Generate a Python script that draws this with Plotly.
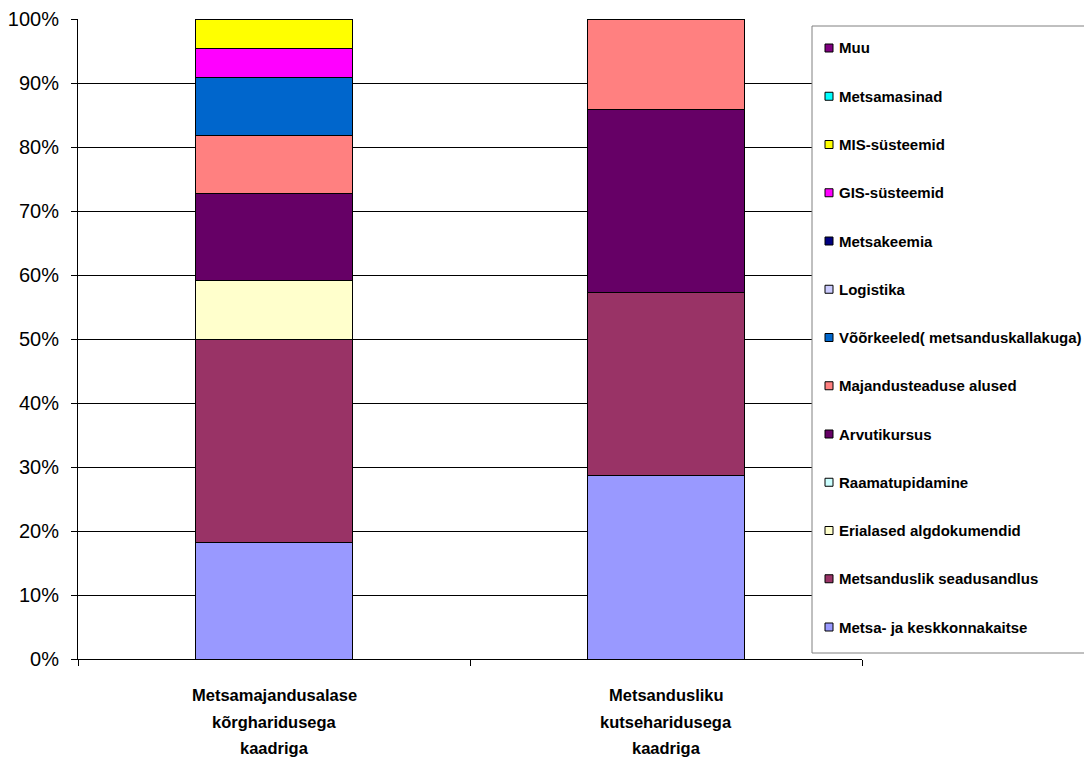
import plotly.graph_objects as go

categories = ["Metsamajandusalase kõrgharidusega kaadriga",
              "Metsandusliku kutseharidusega kaadriga"]
category_lines = [["Metsamajandusalase", "kõrgharidusega", "kaadriga"],
                  ["Metsandusliku", "kutseharidusega", "kaadriga"]]

series_names = [
    "Metsa- ja keskkonnakaitse",
    "Metsanduslik seadusandlus",
    "Erialased algdokumendid",
    "Raamatupidamine",
    "Arvutikursus",
    "Majandusteaduse alused",
    "Võõrkeeled( metsanduskallakuga)",
    "Logistika",
    "Metsakeemia",
    "GIS-süsteemid",
    "MIS-süsteemid",
    "Metsamasinad",
    "Muu",
]
# percentage shares (bottom to top)
values_higher = [18.2, 31.8, 9.1, 0, 13.6, 9.1, 9.1, 0, 0, 4.5, 4.5, 0, 0]
values_vocational = [28.6, 28.6, 0, 0, 28.6, 14.2, 0, 0, 0, 0, 0, 0, 0]

colors = ["#9999FF", "#993366", "#FFFFCC", "#CCFFFF", "#660066", "#FF8080",
          "#0066CC", "#CCCCFF", "#000080", "#FF00FF", "#FFFF00", "#00FFFF",
          "#800080"]

yticks = [0, 10, 20, 30, 40, 50, 60, 70, 80, 90, 100]
ytick_labels = [f"{v}%" for v in yticks]

FONT = "Liberation Sans, Arial, sans-serif"

fig = go.Figure()
for i, name in enumerate(series_names):
    fig.add_trace(go.Bar(
        x=categories,
        y=[values_higher[i], values_vocational[i]],
        name=name,
        marker=dict(color=colors[i], line=dict(color="black", width=1)),
        width=0.4,
        showlegend=False,
    ))

# page has an 8px body margin; work in window pixels and convert
OFF = 8
W, H = 1092 - OFF, 764 - OFF
L, R, T, B = 78, 862, 19, 659  # plot area in window pixels


def px(xp):
    return (xp - L) / (R - L)


def py(yp):
    return (B - yp) / (B - T)


shapes = []
annotations = []

# legend box
shapes.append(dict(type="rect", xref="paper", yref="paper",
                   x0=px(812), x1=px(1110), y0=py(653), y1=py(26),
                   line=dict(color="#808080", width=1), fillcolor="white",
                   layer="above"))
n = len(series_names)
for k, name in enumerate(reversed(series_names)):
    idx = n - 1 - k
    yc = 48 + k * 48.25
    shapes.append(dict(type="rect", xref="paper", yref="paper",
                       x0=px(825), x1=px(833), y0=py(yc + 4), y1=py(yc - 4),
                       line=dict(color="black", width=1),
                       fillcolor=colors[idx], layer="above"))
    annotations.append(dict(xref="paper", yref="paper", x=px(837), y=py(yc),
                            xanchor="left", yanchor="middle", showarrow=False,
                            text="<b>" + name + "</b>",
                            font=dict(family=FONT, size=15, color="black")))

# category labels (multi-line, wider spacing)
for cat, lines in zip(categories, category_lines):
    for j, line in enumerate(lines):
        annotations.append(dict(xref="x", yref="paper", x=cat, y=0,
                                yshift=-(36 + j * 26.5), yanchor="middle",
                                showarrow=False, text="<b>" + line + "</b>",
                                font=dict(family=FONT, size=16.5,
                                          color="black")))

fig.update_layout(
    width=W, height=H,
    barmode="stack",
    plot_bgcolor="white", paper_bgcolor="white",
    margin=dict(l=L - OFF, r=(W + OFF) - R, t=T - OFF, b=(H + OFF) - B,
                autoexpand=False),
    font=dict(family=FONT, size=20, color="black"),
    shapes=shapes,
    annotations=annotations,
    showlegend=False,
    bargap=0.6,
)
fig.update_xaxes(
    showticklabels=False, ticks="outside", tickson="boundaries",
    ticklen=6, tickcolor="black", showline=True, linecolor="black",
    linewidth=1, showgrid=False, zeroline=False,
)
fig.update_yaxes(
    range=[0, 100], tickmode="array", tickvals=yticks, ticktext=ytick_labels,
    ticks="outside", ticklen=6, tickcolor="black", showline=True,
    linecolor="black", linewidth=1, showgrid=True, gridcolor="black",
    gridwidth=1, zeroline=False, ticklabelstandoff=8,
    tickfont=dict(family=FONT, size=20, color="black"),
)

fig.write_html("out.html")
